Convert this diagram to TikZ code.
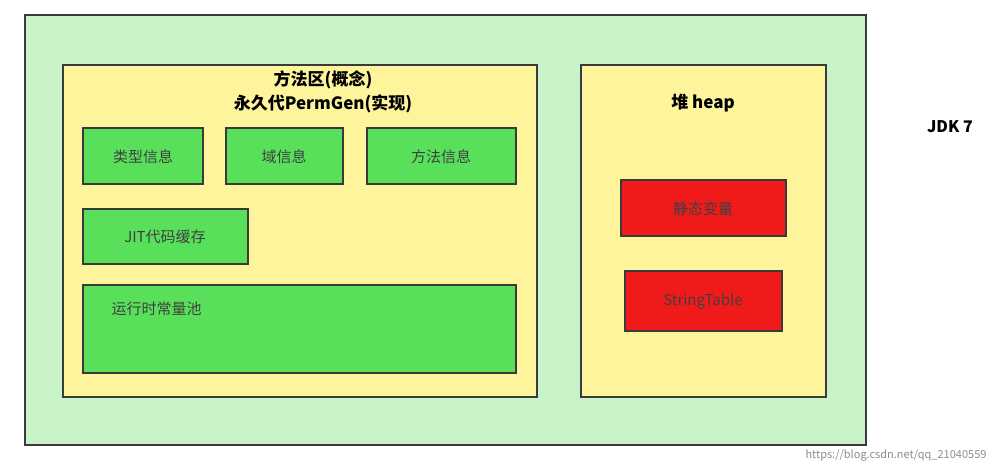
\documentclass[tikz,border=0pt]{standalone}
\usepackage{fontspec}
\setmainfont{Noto Sans CJK SC}
\definecolor{lg}{HTML}{C8F2C8}
\definecolor{yl}{HTML}{FDF49C}
\definecolor{gn}{HTML}{58E05A}
\definecolor{rd}{HTML}{F01A1A}
\definecolor{bd}{HTML}{3A3A3A}
\begin{document}
\begin{tikzpicture}[x=1pt,y=-1pt,
 box/.style={draw=bd,line width=1.6pt,inner sep=0pt},
 gbox/.style={box,fill=gn},
 rbox/.style={box,fill=rd},
 lbl/.style={font=\fontsize{15}{18}\selectfont,text=black!75}]
\useasboundingbox (0,0) rectangle (997,471);
\fill[white] (0,0) rectangle (997,471);
\draw[box,fill=lg] (25,15) rectangle (866,445);
\draw[box,fill=yl] (63,65) rectangle (537,397);
\draw[box,fill=yl] (581,65) rectangle (826,397);
\node[font=\bfseries\fontsize{17}{24}\selectfont,align=center] (t) at (323,92) {方法区(概念)\\永久代PermGen(实现)};
\draw[gbox] (83,128) rectangle (203,184); \node[lbl] (a) at (143,157) {类型信息};
\draw[gbox] (226,128) rectangle (343,184); \node[lbl] (b) at (284,157) {域信息};
\draw[gbox] (367,128) rectangle (516,184); \node[lbl] (c) at (441,157) {方法信息};
\draw[gbox] (83,209) rectangle (248,264); \node[lbl] (d) at (165,237) {JIT代码缓存};
\draw[gbox] (83,285) rectangle (516,373); \node[lbl,anchor=west] (e) at (108,309) {运行时常量池};
\node[font=\bfseries\fontsize{17}{20}\selectfont] (h) at (703,103) {堆 heap};
\draw[rbox] (621,180) rectangle (786,236); \node[lbl] (f) at (703,209) {静态变量};
\draw[rbox] (625,271) rectangle (782,331); \node[lbl] (g) at (703,301) {StringTable};
\node[font=\bfseries\fontsize{16}{19}\selectfont] (j) at (950,127) {JDK 7};
\node[font=\fontsize{11}{13}\selectfont,text=black!45,anchor=east] (w) at (990,455) {https://blog.csdn.net/qq\_21040559};
\end{tikzpicture}
\end{document}
